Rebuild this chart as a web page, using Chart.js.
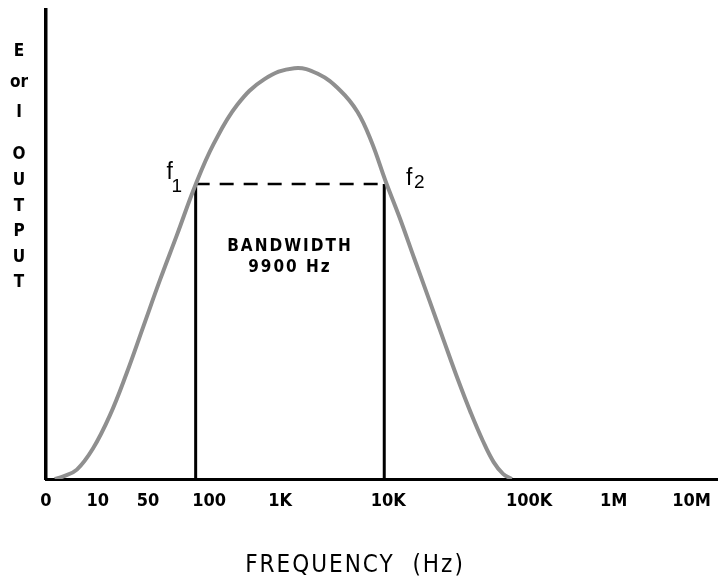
<!DOCTYPE html>
<html>
<head>
<meta charset="utf-8">
<script src="https://cdn.jsdelivr.net/npm/chart.js@4"></script>
<style>
  html, body { margin: 0; padding: 0; background: #fff; }
  canvas { display: block; }
</style>
</head>
<body>
<canvas id="chart" width="723" height="580"></canvas>
<script>
// frequency axis: labels and where they sit along the (stretched) axis, 0..100
const freqLabels = ['0', '10', '50', '100', '1K', '10K', '100K', '1M', '10M'];
const freqTickPos = [0, 7.7, 15.2, 24.3, 34.9, 51.0, 72.0, 84.6, 96.2];

// response curve (axis position, output %)
const responseX = [1.3, 2.5, 4.6, 7.0, 9.5, 12.0, 14.5, 17.0, 19.5, 22.3, 25.0, 28.5, 32.5, 37.0,
                   40.5, 43.8, 46.4, 48.5, 50.6, 52.7, 54.9, 57.1, 59.3, 61.4, 63.3, 65.1, 66.7, 68.1, 69.4];
const responseY = [0, 0.5, 2.0, 6.5, 13.5, 22.5, 32.5, 42.5, 52.0, 62.8, 71.5, 79.8, 85.2, 87.6,
                   86.4, 82.9, 78.3, 71.9, 63.5, 55.7, 46.9, 38.2, 29.4, 21.1, 14.1, 8.1, 3.6, 1.1, 0];

// half-power points
const f1X = 22.3;
const f2X = 50.4;
const cutoffLevel = 62.9;
const bandwidthText = ['BANDWIDTH', '9900 Hz'];

const yTitleTop = ['E', 'or', 'I'];
const yTitleBottom = ['O', 'U', 'T', 'P', 'U', 'T'];
const xTitle = 'FREQUENCY  (Hz)';

const narrow = "'Liberation Sans Narrow', 'DejaVu Sans Condensed', 'Liberation Sans', sans-serif";

const labelsPlugin = {
    id: 'labels',
    afterDraw(chart) {
        const ctx = chart.ctx;
        const xs = chart.scales.x;
        const ys = chart.scales.y;
        ctx.save();
        ctx.fillStyle = '#000';
        ctx.textAlign = 'center';
        ctx.textBaseline = 'middle';

        // vertical axis title, stacked letters
        ctx.font = 'bold 17px ' + narrow;
        yTitleTop.forEach((t, i) => ctx.fillText(t, 19, 52 + i * 30.5));
        yTitleBottom.forEach((t, i) => ctx.fillText(t, 19, 155 + i * 25.6));

        // horizontal axis title
        ctx.font = '24px ' + narrow;
        ctx.letterSpacing = '2px';
        ctx.fillText(xTitle, 355, 566);

        // bandwidth text
        const midX = (xs.getPixelForValue(f1X) + xs.getPixelForValue(f2X)) / 2;
        const ly = ys.getPixelForValue(cutoffLevel);
        ctx.font = 'bold 17px ' + narrow;
        ctx.letterSpacing = '2px';
        ctx.fillText(bandwidthText[0], midX, ly + 63);
        ctx.fillText(bandwidthText[1], midX, ly + 84);
        ctx.letterSpacing = '0px';

        // f1 / f2
        const p1 = xs.getPixelForValue(f1X);
        const p2 = xs.getPixelForValue(f2X);
        ctx.font = '23px "Liberation Sans", sans-serif';
        ctx.fillText('f', p1 - 26, ly - 11);
        ctx.fillText('f', p2 + 25, ly - 5);
        ctx.font = '19px "Liberation Sans", sans-serif';
        ctx.fillText('1', p1 - 19, ly + 3);
        ctx.fillText('2', p2 + 35, ly - 1);
        ctx.restore();
    }
};

const ChartManager = {
    chart: null,
    ctx: document.getElementById('chart'),

    init() {
        this.chart = new Chart(this.ctx, {
            type: 'line',
            data: {
                datasets: [
                    {
                        label: 'Output',
                        data: responseX.map((x, i) => ({ x: x, y: responseY[i] })),
                        borderColor: '#8f8f8f',
                        borderWidth: 4,
                        tension: 0.4,
                        fill: false,
                        pointRadius: 0,
                    },
                    {
                        label: 'f1',
                        data: [{ x: f1X, y: 0 }, { x: f1X, y: cutoffLevel }],
                        borderColor: '#000',
                        borderWidth: 3,
                        pointRadius: 0,
                    },
                    {
                        label: 'f2',
                        data: [{ x: f2X, y: 0 }, { x: f2X, y: cutoffLevel }],
                        borderColor: '#000',
                        borderWidth: 3,
                        pointRadius: 0,
                    },
                    {
                        label: 'cutoff',
                        data: [{ x: f1X, y: cutoffLevel }, { x: f2X, y: cutoffLevel }],
                        borderColor: '#000',
                        borderWidth: 2.5,
                        borderDash: [14, 10],
                        pointRadius: 0,
                    },
                ],
            },
            options: {
                responsive: false,
                animation: false,
                layout: {
                    padding: { top: 10, right: 1, left: 0, bottom: 0 }
                },
                scales: {
                    x: {
                        type: 'linear',
                        min: 0,
                        max: 100,
                        grid: { display: false, drawTicks: false },
                        border: { display: true, color: '#000', width: 3 },
                        afterBuildTicks(scale) {
                            scale.ticks = freqTickPos.map(v => ({ value: v }));
                        },
                        afterFit(scale) {
                            scale.height = 101;
                        },
                        ticks: {
                            autoSkip: false,
                            maxRotation: 0,
                            padding: 12,
                            color: '#000',
                            font: { family: narrow, size: 18, weight: 'bold' },
                            callback: (v) => freqLabels[freqTickPos.indexOf(v)]
                        }
                    },
                    y: {
                        type: 'linear',
                        min: 0,
                        max: 100,
                        grid: { display: false, drawTicks: false },
                        border: { display: true, color: '#000', width: 3.5 },
                        ticks: { display: false },
                        afterFit(scale) {
                            scale.width = 46;
                        }
                    }
                },
                plugins: {
                    legend: { display: false },
                    tooltip: { enabled: false }
                }
            },
            plugins: [labelsPlugin]
        });
    }
};

ChartManager.init();
</script>
</body>
</html>
